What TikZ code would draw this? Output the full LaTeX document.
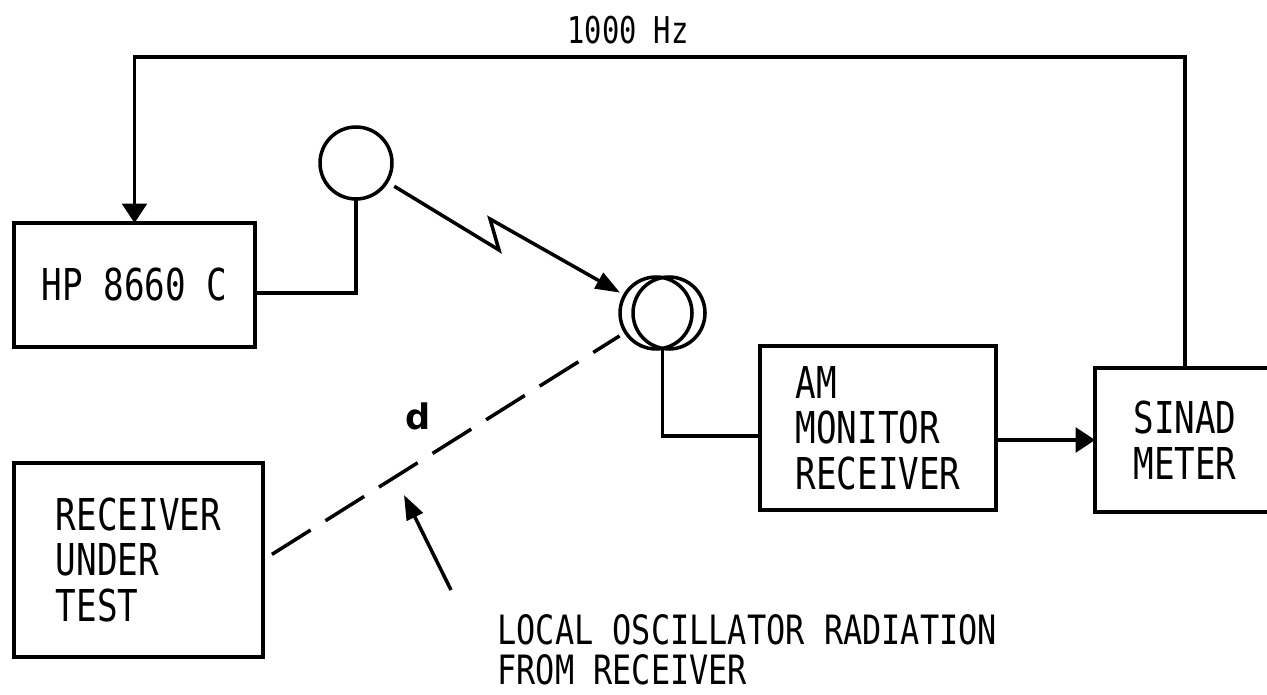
\documentclass[tikz,border=0pt]{standalone}
\usepackage{fontspec}
\usepackage{tikz}
\usetikzlibrary{arrows.meta, positioning, calc}
\newfontfamily\lettering[FakeStretch=0.78]{DejaVu Sans Mono}
\newfontfamily\narrowlettering[FakeStretch=0.79]{DejaVu Sans Mono}
\newfontfamily\labelfont{DejaVu Sans}
\tikzset{
  box/.style={rectangle, draw, line width=2pt, inner sep=0pt, outer sep=0pt, align=left, font=\lettering\fontsize{25}{26}\selectfont},
  antenna/.style={circle, draw, line width=2pt, minimum size=1.44cm, inner sep=0pt, outer sep=0pt},
  wire/.style={line width=2pt},
  arrow/.style={-{Triangle[length=11pt,width=14pt]}, line width=2pt},
  thinarrow/.style={-{Triangle[length=14pt,width=10pt]}, line width=2pt},
  radiation/.style={line width=2pt, dash pattern=on 26pt off 10pt},
  note/.style={align=left, inner sep=0pt, font=\narrowlettering\fontsize{23}{23}\selectfont},
}
\begin{document}
\begin{tikzpicture}[x=0.02cm, y=-0.02cm]
  \useasboundingbox (0,0) rectangle (1267,695);
  % Boxes
  \node[box, minimum width=4.82cm, minimum height=2.48cm] (hp) at (134.5,285) {HP 8660 C};
  \node[box, minimum width=4.98cm, minimum height=3.88cm] (rut) at (138.5,560) {RECEIVER\\UNDER\\TEST};
  \node[box, minimum width=4.72cm, minimum height=3.28cm] (am) at (878,428) {AM\\MONITOR\\RECEIVER};
  \node[box, minimum width=3.6cm, minimum height=2.88cm] (sinad) at (1185,440) {SINAD\\METER};
  % Antennas
  \node[antenna] (txant) at (356,163) {};
  \node[antenna] (rxa) at (656,313) {};
  \node[antenna] (rxb) at (669,313) {};
  % Helper points
  \coordinate (fbtop) at (660,57);
  \coordinate (zz1) at (499,250);
  \coordinate (zz2) at (490,219);
  \coordinate (lotail) at (451,590);
  \coordinate (lotip) at (404,495);

  % Feedback loop
  \draw[arrow] (sinad.north) |- (fbtop) -| (hp.north);
  \node[font=\lettering\fontsize{21}{21}\selectfont] (freq) at (628,30) {1000 Hz};
  % Generator to antenna
  \draw[wire] ($(hp.east)+(0,8)$) -| (txant.south);
  % Radiated path
  \draw[thinarrow, shorten <=5pt, shorten >=3pt] (txant) -- (zz1) -- (zz2) -- (rxa);
  % Receiving antenna to monitor
  \draw[wire] ($(rxa.south)!0.5!(rxb.south)$) |- ($(am.west)+(0,8)$);
  \draw[arrow] (am.east |- sinad.west) -- (sinad.west);
  % Local oscillator radiation
  \draw[radiation, shorten <=6pt, shorten >=4pt] (rut.east) -- (rxa);
  \node[font=\labelfont\bfseries\fontsize{20}{20}\selectfont] (dist) at (418,416) {d};
  \draw[thinarrow] (lotail) -- (lotip);
  \node[note, anchor=north west] (lotext) at (497,614) {LOCAL OSCILLATOR RADIATION\\FROM RECEIVER};
\end{tikzpicture}
\end{document}
